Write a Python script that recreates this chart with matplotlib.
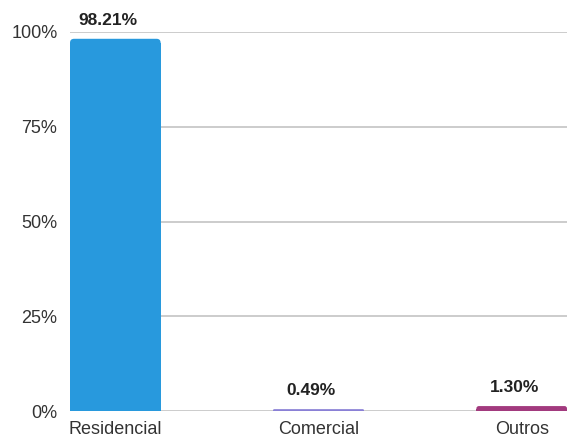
import matplotlib.pyplot as plt
from matplotlib.patches import FancyBboxPatch

categories = ["Residencial", "Comercial", "Outros"]
shares = [98.21, 0.49, 1.30]
share_labels = ["98.21%", "0.49%", "1.30%"]
bar_colors = ["#2899dd", "#8a80d6", "#a23a7e"]
y_ticks = [0, 25, 50, 75, 100]
y_tick_labels = ["0%", "25%", "50%", "75%", "100%"]

plt.rcParams['font.family'] = ['Liberation Sans', 'DejaVu Sans']

fig = plt.figure(figsize=(5.67, 4.41), dpi=100)
ax = fig.add_axes([70 / 567, 30 / 441, 497 / 567, 379 / 441])

x = list(range(len(categories)))
width = 0.446
bars = ax.bar(x, shares, width=width, color=bar_colors, zorder=3)

# rounded top corners (approx 4px radius)
aspect = (100 / 379) / ((2 + width) / 497)
for b in bars:
    bx, by = b.get_x(), b.get_y()
    bw, bh = b.get_width(), b.get_height()
    r = min(0.02, bh / aspect / 2)
    b.set_height(bh - r * aspect)
    ax.add_patch(FancyBboxPatch((bx, by), bw, bh,
                                boxstyle="round,pad=0,rounding_size=%f" % r,
                                mutation_aspect=aspect, color=b.get_facecolor(),
                                linewidth=0, zorder=3))

for xi, v, lab in zip(x, shares, share_labels):
    ax.annotate(lab, (xi - 0.035, v), xytext=(0, 8), textcoords="offset points",
                ha="center", va="bottom", fontsize=12.5, fontweight="bold", color="#222222")

ax.set_xlim(-width / 2, 2 + width / 2)
ax.set_ylim(0, 100)
ax.set_yticks(y_ticks)
ax.set_yticklabels(y_tick_labels)
ax.set_xticks(x)
ax.set_xticklabels(categories)
ax.tick_params(axis="both", length=0, labelsize=13, labelcolor="#333333")
ax.tick_params(axis="y", pad=9)
ax.tick_params(axis="x", pad=7)
ax.grid(axis="y", color="#c8c8c8", linewidth=1.3, zorder=0)
for s in ax.spines.values():
    s.set_visible(False)

fig.savefig("out.png", dpi=100)
